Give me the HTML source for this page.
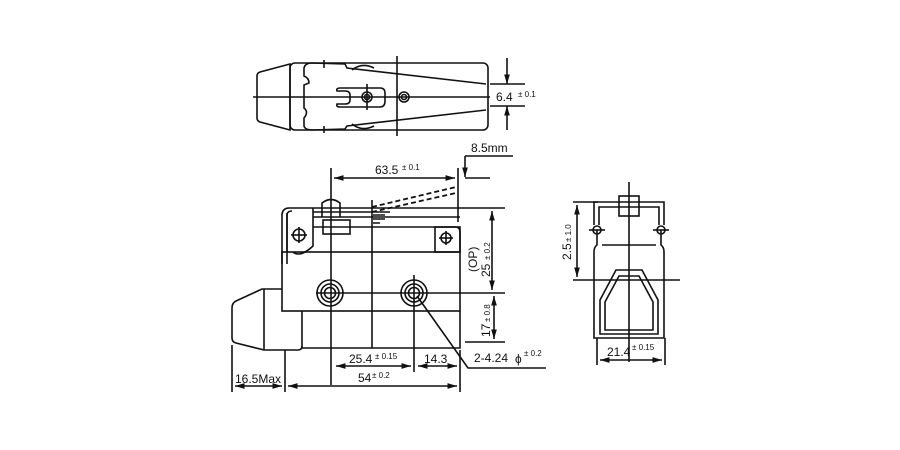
<!DOCTYPE html>
<html><head><meta charset="utf-8"><style>
html,body{margin:0;padding:0;background:#fff}
svg{display:block}
text{font-family:"Liberation Sans",sans-serif;fill:#111}
</style></head><body>
<svg width="900" height="450" viewBox="0 0 900 450" xmlns="http://www.w3.org/2000/svg">
<defs>
<marker id="a" viewBox="0 0 10 10" refX="10" refY="5" markerWidth="6" markerHeight="6" orient="auto-start-reverse"><path d="M0,2 L10,5 L0,8 z" fill="#111"/></marker>
</defs>
<g fill="none" stroke="#111" stroke-width="1.6">
<!-- TOP VIEW -->
<path d="M290,64 L260,72 Q257,73 257,76 L257,118 Q257,121 260,122 L290,130 Z"/>
<rect x="290" y="63" width="198" height="67" rx="5"/>
<path d="M312,63 Q305,63 304,68 L304,76 Q309,78 309,83 L304,85 L304,108 Q309,112 304,118 L304,126 Q305,130 312,130"/>
<path d="M312,63 L345,64 L347,68 L486,84 M312,130 L345,129 L347,126 L486,110"/>
<path d="M352,70 Q362,62 374,68 M352,124 Q362,132 374,126"/>
<path d="M340,88 L380,88 Q385,88 385,93 L385,101 Q385,107 380,107 L340,107 Q336,107 337,104 L345,104 Q350,104 350,100 L350,95 Q350,91 345,91 L337,91 Q336,88 340,88 Z"/>
<circle cx="367" cy="97" r="5"/><circle cx="367" cy="97" r="2.5"/>
<circle cx="404" cy="97" r="5"/><circle cx="404" cy="97" r="2.5"/>
<line x1="253" y1="97" x2="490" y2="97"/>
<line x1="367" y1="84" x2="367" y2="110"/>
<line x1="397" y1="56" x2="397" y2="136"/>
<line x1="324" y1="60" x2="324" y2="68"/><line x1="324" y1="126" x2="324" y2="133"/>
<line x1="490" y1="84" x2="525" y2="84"/><line x1="490" y1="106" x2="525" y2="106"/>
<line x1="507" y1="58" x2="507" y2="84" marker-end="url(#a)"/>
<line x1="507" y1="130" x2="507" y2="106" marker-end="url(#a)"/>

<!-- FRONT VIEW -->
<line x1="465" y1="156" x2="513" y2="156"/>
<line x1="465" y1="156" x2="465" y2="177" marker-end="url(#a)"/>
<line x1="465" y1="178" x2="490" y2="178"/>
<line x1="331" y1="168" x2="331" y2="385"/>
<line x1="458" y1="168" x2="458" y2="222"/>
<line x1="334" y1="178" x2="455" y2="178" marker-start="url(#a)" marker-end="url(#a)"/>
<path d="M372,207 L456,187 M372,212 L456,193" stroke-dasharray="5,3" stroke-width="1.8"/>
<path d="M282,264 L282,214 Q283,208 289,208 L460,208"/>
<path d="M287,264 L287,214 Q288,211 292,211"/>
<path d="M287,213 L287,252 M313,208 L313,246 Q300,258 293,252"/>
<circle cx="299" cy="235" r="6"/><line x1="291" y1="235" x2="307" y2="235"/><line x1="299" y1="227" x2="299" y2="243"/>
<line x1="313" y1="212" x2="372" y2="212"/>
<line x1="313" y1="217" x2="460" y2="217"/>
<rect x="323" y="220" width="27" height="14"/>
<path d="M322,217 L322,203 Q331,196 340,203 L340,217"/>
<path d="M373,212 L390,212 M373,215 L385,215 M373,219 L385,219 M373,223 L380,223"/>
<path d="M313,227 L455,227 Q460,227 460,232 L460,252"/>
<rect x="435" y="227" width="25" height="25"/>
<circle cx="446" cy="238" r="5"/><line x1="439" y1="238" x2="453" y2="238"/><line x1="446" y1="231" x2="446" y2="245"/>
<rect x="282" y="252" width="178" height="59"/>
<path d="M302,311 L302,348 L460,348 L460,311"/>
<path d="M282,289 L262,289 L236,301 Q232,303 232,308 L232,338 Q232,342 236,343 L264,350 L298,350 Q302,350 302,346"/>
<line x1="264" y1="289" x2="264" y2="350"/>
<circle cx="330" cy="293" r="13"/><circle cx="330" cy="293" r="9"/><circle cx="330" cy="293" r="5.5"/>
<circle cx="414" cy="293" r="13"/><circle cx="414" cy="293" r="9"/><circle cx="414" cy="293" r="5.5"/>
<line x1="316" y1="293" x2="505" y2="293"/>
<line x1="372" y1="200" x2="372" y2="348"/>
<line x1="414" y1="275" x2="414" y2="372"/>
<line x1="460" y1="208" x2="505" y2="208"/>
<line x1="465" y1="342" x2="505" y2="342"/>
<line x1="492" y1="211" x2="492" y2="290" marker-start="url(#a)" marker-end="url(#a)"/>
<line x1="494" y1="296" x2="494" y2="339" marker-start="url(#a)" marker-end="url(#a)"/>
<line x1="460" y1="350" x2="460" y2="392"/>
<line x1="285" y1="350" x2="285" y2="392"/>
<line x1="232" y1="345" x2="232" y2="392"/>
<line x1="336" y1="366" x2="411" y2="366" marker-start="url(#a)" marker-end="url(#a)"/>
<line x1="418" y1="366" x2="457" y2="366" marker-start="url(#a)" marker-end="url(#a)"/>
<line x1="288" y1="386" x2="457" y2="386" marker-start="url(#a)" marker-end="url(#a)"/>
<line x1="235" y1="386" x2="282" y2="386" marker-start="url(#a)" marker-end="url(#a)"/>
<path d="M417,296 L468,368 L546,368"/>

<!-- SIDE VIEW -->
<line x1="629" y1="182" x2="629" y2="362"/>
<rect x="619" y="196" width="20" height="20"/>
<path d="M594,225 L594,202 L664,202 L664,225"/>
<path d="M599,225 L599,207 L659,207 L659,225"/>
<path d="M597,230 L597,245 Q594,247 594,252 L594,338 L664,338 L664,252 Q664,247 661,245 L661,230"/>
<line x1="602" y1="245" x2="656" y2="245"/>
<path d="M600,300 L616,270 L642,270 L658,300 L658,334 L600,334 Z"/>
<path d="M605,302 L619,276 L639,276 L653,302 L653,330 L605,330 Z"/>
<circle cx="597" cy="230" r="4"/><circle cx="661" cy="230" r="4"/>
<line x1="589" y1="230" x2="605" y2="230"/><line x1="653" y1="230" x2="669" y2="230"/>
<line x1="573" y1="202" x2="598" y2="202"/>
<line x1="573" y1="280" x2="680" y2="280"/>
<line x1="577" y1="205" x2="577" y2="277" marker-start="url(#a)" marker-end="url(#a)"/>
<line x1="597" y1="338" x2="597" y2="365"/><line x1="665" y1="338" x2="665" y2="365"/>
<line x1="600" y1="360" x2="662" y2="360" marker-start="url(#a)" marker-end="url(#a)"/>
</g>
<g>
<text x="496" y="101" font-size="12">6.4</text><text x="518" y="97" font-size="8">± 0.1</text>
<text x="471" y="152" font-size="12">8.5mm</text>
<text x="375" y="174" font-size="12">63.5</text><text x="402" y="170" font-size="8">± 0.1</text>
<text x="349" y="363" font-size="12">25.4</text><text x="375" y="359" font-size="8">± 0.15</text>
<text x="424" y="363" font-size="12">14.3</text>
<text x="474" y="362" font-size="12">2-4.24 </text><text x="515" y="363" font-size="12">ϕ</text><text x="524" y="356" font-size="8">± 0.2</text>
<text x="358" y="382" font-size="12">54</text><text x="372" y="378" font-size="8">± 0.2</text>
<text x="235" y="383" font-size="12">16.5Max</text>
<text transform="translate(477,272) rotate(-90)" font-size="12">(OP)</text>
<text transform="translate(490,277) rotate(-90)" font-size="12">25</text>
<text transform="translate(490,260) rotate(-90)" font-size="8">± 0.2</text>
<text transform="translate(490,337) rotate(-90)" font-size="12">17</text>
<text transform="translate(490,322) rotate(-90)" font-size="8">± 0.8</text>
<text transform="translate(571,260) rotate(-90)" font-size="12">2.5</text>
<text transform="translate(571,242) rotate(-90)" font-size="8">± 1.0</text>
<text x="607" y="356" font-size="12">21.4</text><text x="632" y="350" font-size="8">± 0.15</text>
</g>
</svg>
</body></html>
